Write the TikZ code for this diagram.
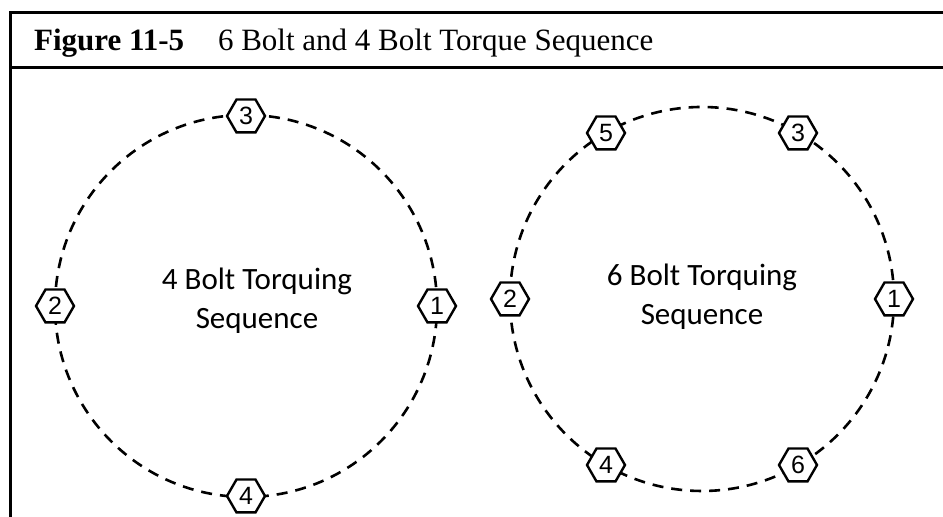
\documentclass[tikz,border=0pt]{standalone}
\usepackage{fontspec}
\setmainfont{Liberation Serif}
\newfontfamily\labelfont{Carlito}
\newfontfamily\numfont{Liberation Sans}
\usetikzlibrary{shapes.geometric}

\begin{document}
\begin{tikzpicture}[x=0.5pt,y=0.5pt,
  frameline/.style={line width=1.5pt},
  boltcircle/.style={line width=1.3pt,dash pattern=on 5.5pt off 4pt},
  hexbolt/.style={regular polygon,regular polygon sides=6,draw,line width=1.2pt,fill=white,inner sep=0pt,minimum size=19pt,font=\numfont\fontsize{12.5}{13}\selectfont},
  seqlabel/.style={align=center,font=\labelfont\fontsize{15.5}{19.5}\selectfont}]
\useasboundingbox (0,0) rectangle (943,517);
\draw[frameline] (943,504.5)--(10,504.5)--(10,0);
\draw[frameline] (10,449)--(943,449);
\node (fignum) [anchor=base west,font=\fontsize{15.5}{18}\selectfont\bfseries] at (27,466) {Figure 11-5};
\node (figtitle) [anchor=base west,font=\fontsize{15.5}{18}\selectfont] at (211,466) {6 Bolt and 4 Bolt Torque Sequence};
% 4 bolt flange
\draw[boltcircle] (246,211) circle [radius=191];
\node (fourlabel) [seqlabel] at (257,216) {4 Bolt Torquing\\Sequence};
\node (l1) [hexbolt] at (437,211) {1};
\node (l2) [hexbolt] at (55,211) {2};
\node (l3) [hexbolt] at (246,401) {3};
\node (l4) [hexbolt] at (246,21) {4};
% 6 bolt flange
\draw[boltcircle] (702,218) circle [radius=192];
\node (sixlabel) [seqlabel] at (702,220) {6 Bolt Torquing\\Sequence};
\node (r1) [hexbolt] at (894,218) {1};
\node (r2) [hexbolt] at (510,218) {2};
\node (r3) [hexbolt] at (798,384) {3};
\node (r4) [hexbolt] at (606,52) {4};
\node (r5) [hexbolt] at (606,384) {5};
\node (r6) [hexbolt] at (798,52) {6};
\end{tikzpicture}
\end{document}
